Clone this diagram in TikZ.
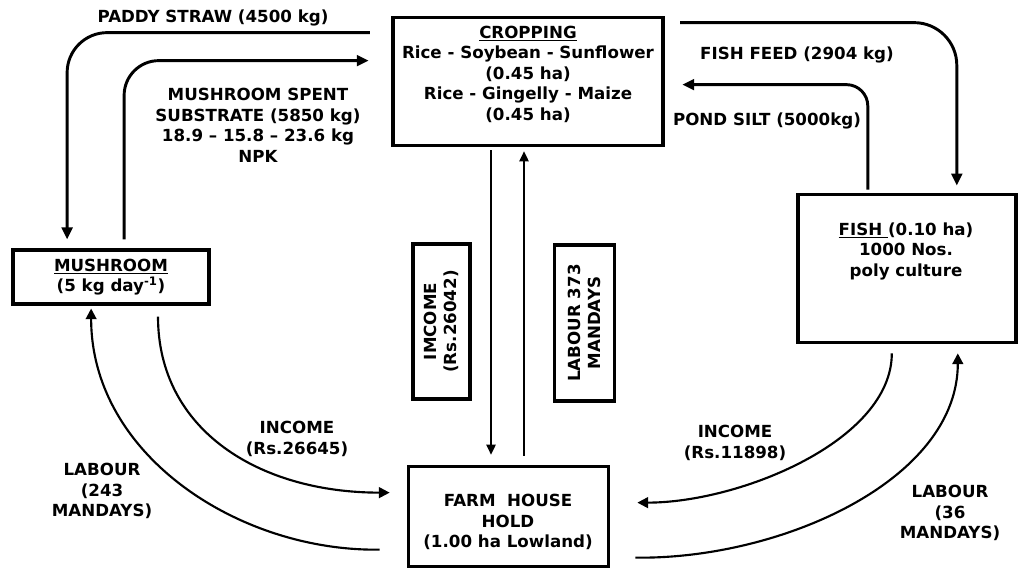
\documentclass[tikz,border=0pt]{standalone}
\usepackage{fontspec}
\setmainfont{DejaVu Sans}
\usetikzlibrary{arrows.meta}

\begin{document}
\begin{tikzpicture}[x=0.75pt,y=-0.75pt,font=\fontsize{12.5}{15.4}\selectfont\bfseries,
  box/.style={draw,line width=2.8pt,inner sep=0pt},
  lbl/.style={align=center,inner sep=0pt},
  flow/.style={line width=2.2pt,-{Triangle[length=9pt,width=8pt]}},
  swing/.style={line width=1.6pt,-{Triangle[length=8pt,width=8pt]}},
  link/.style={line width=1.3pt,-{Triangle[length=7.5pt,width=7pt]}}]
\useasboundingbox (0,0) rectangle (1023,570);
% boxes
\node[box,minimum width=203pt,minimum height=96pt] (crop) at (528,81.5) {};
\node[box,minimum width=147pt,minimum height=40pt] (mush) at (111,277) {};
\node[box,minimum width=164pt,minimum height=111pt] (fish) at (907,268.5) {};
\node[box,minimum width=150pt,minimum height=75pt] (farm) at (508.5,516.5) {};
\node[box,rotate=90,minimum width=116pt,minimum height=43pt,align=center] (imc) at (441.5,321.5) {IMCOME\\(Rs.26042)};
\node[box,rotate=90,minimum width=116.5pt,minimum height=45pt,align=center] (lab) at (584.5,323) {LABOUR 373\\MANDAYS};
% box texts
\node[lbl] (cropT) at (528,74) {\underline{CROPPING}\\Rice - Soybean - Sunflower\\(0.45 ha)\\Rice - Gingelly - Maize\\(0.45 ha)};
\node[lbl] (mushT) at (111,277) {\underline{MUSHROOM}\\(5 kg day\textsuperscript{-1})};
\node[lbl] (fishT) at (906,251) {\underline{FISH\ }(0.10 ha)\\ 1000 Nos.\\poly culture};
\node[lbl] (farmT) at (508,522) {FARM\ \ HOUSE\\HOLD\\(1.00 ha Lowland)};
% flow labels
\node[lbl] (paddy) at (213,18) {PADDY STRAW (4500 kg)};
\node[lbl] (spent) at (258,125.5) {MUSHROOM SPENT\\SUBSTRATE (5850 kg)\\18.9 -- 15.8 -- 23.6 kg\\NPK};
\node[lbl] (feed) at (797,55) {FISH FEED (2904 kg)};
\node[lbl] (silt) at (767,121) {POND SILT (5000kg)};
\node[lbl] (incM) at (297,439) {INCOME\\(Rs.26645)};
\node[lbl] (labM) at (102,491) {LABOUR\\(243\\MANDAYS)};
\node[lbl] (incF) at (735,443) {INCOME\\(Rs.11898)};
\node[lbl] (labF) at (950,513) {LABOUR\\(36\\MANDAYS)};
% connectors
\draw[flow,rounded corners=30pt] ([shift={(-21,17)}]crop.north west) -| ([shift={(56,-9)}]mush.north west);
\draw[flow,rounded corners=26pt] ([shift={(113,-9)}]mush.north west) |- ([shift={(-22,45)}]crop.north west);
\draw[flow,rounded corners=32pt] ([shift={(15,7)}]crop.north east) -| ([shift={(161,-7)}]fish.north west);
\draw[flow,rounded corners=16pt] ([shift={(72,-3)}]fish.north west) |- ([shift={(17,69)}]crop.north east);
\draw[link] ([shift={(-37,3)}]crop.south) -- ([shift={(-17.5,-10)}]farm.north);
\draw[link] ([shift={(15.5,-9)}]farm.north) -- ([shift={(-4,4)}]crop.south);
\draw[swing] ([shift={(47,11)}]mush.south) .. controls +(0,114) and +(-130,0) .. ([shift={(-17,28)}]farm.north west);
\draw[swing] ([shift={(-27,85)}]farm.north west) .. controls +(-140,2) and +(0,147) .. ([shift={(80,3)}]mush.south west);
\draw[swing] ([shift={(96,9)}]fish.south west) .. controls +(0,87) and +(103,0) .. ([shift={(27,38)}]farm.north east);
\draw[swing] ([shift={(25,93)}]farm.north east) .. controls +(145,2) and +(0,127) .. ([shift={(162,9)}]fish.south west);
\end{tikzpicture}
\end{document}
